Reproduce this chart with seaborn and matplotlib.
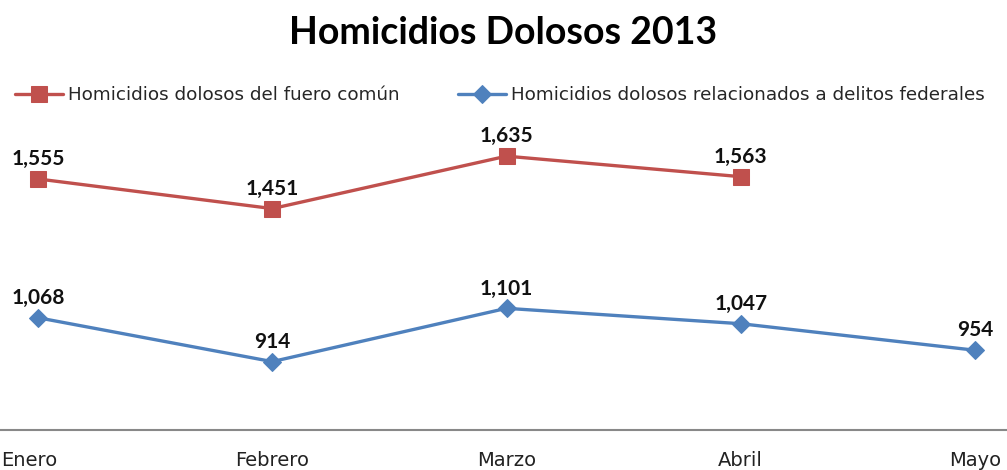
import pandas as pd
import seaborn as sns
import matplotlib.pyplot as plt

meses = ["Enero", "Febrero", "Marzo", "Abril", "Mayo"]
fuero_comun = [1555, 1451, 1635, 1563]
federales = [1068, 914, 1101, 1047, 954]

lbl_comun = "Homicidios dolosos del fuero común"
lbl_fed = "Homicidios dolosos relacionados a delitos federales"

rojo = "#C0504D"
azul = "#4F81BD"

df_comun = pd.DataFrame({"pos": range(len(fuero_comun)), "valor": fuero_comun})
df_fed = pd.DataFrame({"pos": range(len(federales)), "valor": federales})

sns.set_style("white")
plt.rcParams['font.family'] = ['DejaVu Sans']

fig = plt.figure(figsize=(10.07, 4.70), dpi=100)
ax = fig.add_axes([0, 40 / 470, 1, 320 / 470])

sns.lineplot(ax=ax, data=df_comun, x="pos", y="valor", color=rojo, linewidth=2.4,
             marker="s", markersize=11, markeredgecolor=rojo, label=lbl_comun)
sns.lineplot(ax=ax, data=df_fed, x="pos", y="valor", color=azul, linewidth=2.4,
             marker="D", markersize=9, markeredgecolor=azul, label=lbl_fed)

for df in (df_comun, df_fed):
    for x, y in zip(df["pos"], df["valor"]):
        ax.annotate(f"{y:,}", (x, y), textcoords="offset points", xytext=(0, 7),
                    ha="center", va="bottom", fontsize=15, fontweight="bold",
                    color="#111111", family="Lato")

ax.set_xlim(-38 / 234.25, (1007 - 38) / 234.25)
ax.set_ylim(674, 1797)
ax.set_xticks(range(len(meses)))
# the first month label sits flush at the left edge, like the original
ax.set_xticklabels([""] + meses[1:], fontsize=14, color="#222222")
ax.tick_params(axis="x", length=0, pad=15)
ax.annotate(meses[0], xy=(0, 0), xycoords=("data", "axes fraction"),
            xytext=(-37, -21), textcoords="offset pixels", ha="left", va="top",
            fontsize=14, color="#222222")
ax.set_yticks([])
ax.set_xlabel("")
ax.set_ylabel("")
for s in ["top", "right", "left"]:
    ax.spines[s].set_visible(False)
ax.spines["bottom"].set_color("#888888")
ax.spines["bottom"].set_linewidth(1.5)

ax.legend(loc="center left", bbox_to_anchor=(15 / 1007, 1 + 15 / 320), ncol=2, frameon=False,
          fontsize=13.25, handlelength=2.6, handletextpad=0.27, columnspacing=3.2,
          borderaxespad=0, borderpad=0, numpoints=1)

fig.text(0.5, 1 - 33 / 470, "Homicidios Dolosos 2013", ha="center", va="center",
         fontsize=27, fontweight="bold", color="black", family="Lato")

fig.savefig("out.png", dpi=100)
